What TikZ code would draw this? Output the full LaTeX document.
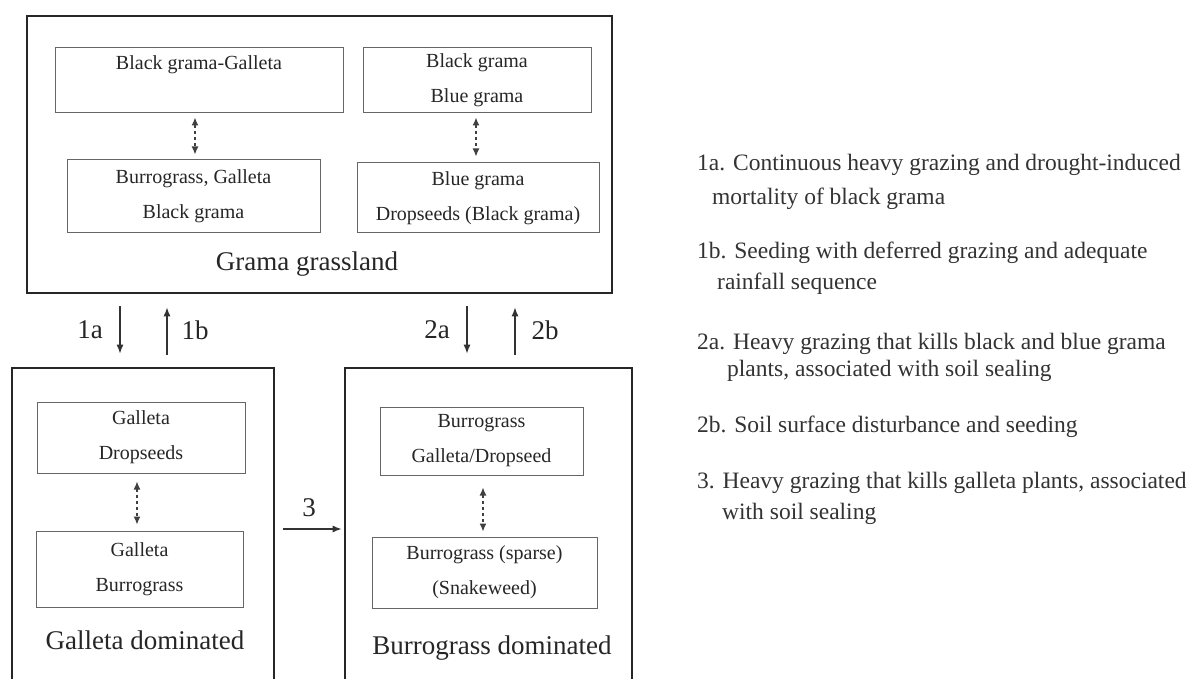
\documentclass[tikz,border=0pt]{standalone}
\usepackage{fontspec}
\setmainfont{Liberation Serif}
\usetikzlibrary{arrows,arrows.meta,positioning}

\tikzset{
  bigbox/.style={draw=black!85,line width=2.6pt,inner sep=0pt},
  inbox/.style={draw=black!60,line width=1pt,inner sep=0pt,align=center,
    font=\fontsize{20}{35}\selectfont,text=black!85},
  dashar/.style={{Latex[length=8pt,width=7pt]}-{Latex[length=8pt,width=7pt]},
    dash pattern=on 3pt off 3pt,line width=1.2pt,black!75},
  bigar/.style={-{Latex[length=9pt,width=7pt]},line width=1.4pt,black!80,
    shorten <=12pt,shorten >=13pt},
  lbl/.style={font=\fontsize{27}{30}\selectfont,text=black!85},
  legend/.style={anchor=west,inner sep=0pt,font=\fontsize{23.5}{26}\selectfont,text=black!80}
}

\begin{document}
\begin{tikzpicture}[x=1pt,y=-1pt]
\fill[white] (0,0) rectangle (1195,679);
\clip (0,0) rectangle (1195,679);

\node[bigbox,minimum width=585,minimum height=277] (grama) at (319.5,154.5) {};
\node[bigbox,minimum width=262,minimum height=322] (galdom) at (143,529) {};
\node[bigbox,minimum width=287,minimum height=322] (burdom) at (488.5,529) {};

\node[inbox,minimum width=288,minimum height=65] (bgg) at (199,80.5) {Black grama-Galleta\\ \mbox{}};
\node[inbox,minimum width=228,minimum height=65] (bbg) at (477,80.5) {Black grama\\ Blue grama};
\node[inbox,minimum width=253,minimum height=73] (bgb) at (193.5,196.5) {Burrograss, Galleta\\ Black grama};
\node[inbox,minimum width=242,minimum height=70] (bld) at (478,198) {Blue grama\\ Dropseeds (Black grama)};
\node[lbl] (gramalbl) at (307,264) {Grama grassland};

\node[inbox,minimum width=208,minimum height=71] (gd) at (141,437.5) {Galleta\\ Dropseeds};
\node[inbox,minimum width=207,minimum height=76] (gb) at (139.5,569) {Galleta\\ Burrograss};
\node[lbl] (gallbl) at (145,640) {Galleta dominated};

\node[inbox,minimum width=203,minimum height=68] (bgd) at (481.5,441) {Burrograss\\ Galleta/Dropseed};
\node[inbox,minimum width=225,minimum height=71] (bss) at (484.5,572.5) {Burrograss (sparse)\\ (Snakeweed)};
\node[lbl] (burlbl) at (492,648) {Burrograss dominated};

\draw[dashar,shorten <=4pt,shorten >=5pt] ([xshift=-4pt]bgg.south) -- ([xshift=1.5pt]bgb.north);
\draw[dashar,shorten <=4pt,shorten >=6pt] ([xshift=-1pt]bbg.south) -- ([xshift=-2pt]bld.north);
\draw[dashar,shorten <=8pt,shorten >=6pt] ([xshift=-4pt]gd.south) -- ([xshift=-2.5pt]gb.north);
\draw[dashar,shorten <=12pt,shorten >=5pt] ([xshift=1.5pt]bgd.south) -- ([xshift=-1.5pt]bss.north);

\coordinate (c1a) at (120,0);
\coordinate (c1b) at (167,0);
\coordinate (c2a) at (467,0);
\coordinate (c2b) at (515,0);
\draw[bigar] (grama.south -| c1a) -- (galdom.north -| c1a);
\draw[bigar] (galdom.north -| c1b) -- (grama.south -| c1b);
\draw[bigar] (grama.south -| c2a) -- (burdom.north -| c2a);
\draw[bigar] (burdom.north -| c2b) -- (grama.south -| c2b);
\foreach \n/\x in {1a/90,1b/195,2a/437,2b/545}
  \node[lbl] (t\n) at (\x,330) {\n};

\draw[bigar,shorten <=8pt,shorten >=2pt] (galdom.east) -- (burdom.west);
\node[lbl] (t3) at (309,508) {3};

\node[legend] (l1a) at (697,165) {1a. Continuous heavy grazing and drought-induced};
\node[legend] (l1a2) at (712,199) {mortality of black grama};
\node[legend] (l1b) at (697,253) {1b. Seeding with deferred grazing and adequate};
\node[legend] (l1b2) at (717,284) {rainfall sequence};
\node[legend] (l2a) at (697,344) {2a. Heavy grazing that kills black and blue grama};
\node[legend] (l2a2) at (727,371) {plants, associated with soil sealing};
\node[legend] (l2b) at (697,427) {2b. Soil surface disturbance and seeding};
\node[legend] (l3) at (697,483) {3. Heavy grazing that kills galleta plants, associated};
\node[legend] (l32) at (722,514) {with soil sealing};
\end{tikzpicture}
\end{document}
